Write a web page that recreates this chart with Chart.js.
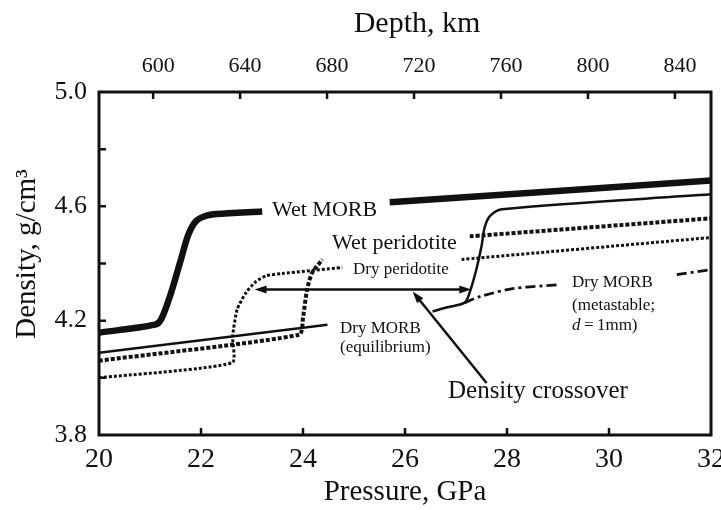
<!DOCTYPE html>
<html>
<head>
<meta charset="utf-8">
<script src="https://cdn.jsdelivr.net/npm/chart.js@4.4.1/dist/chart.umd.min.js"></script>
<style>
  html, body { margin: 0; padding: 0; background: #fff; }
  canvas { display: block; }
</style>
</head>
<body>
<canvas id="chart" width="721" height="510"></canvas>
<script>
// ---- Axis ticks ----
const pressureTicks = [20, 22, 24, 26, 28, 30, 32];          // GPa
const depthTicks = [600, 640, 680, 720, 760, 800, 840];      // km
const densityTicks = [3.8, 4.0, 4.2, 4.4, 4.6, 4.8, 5.0];    // g/cm3
const densityLabels = [3.8, 4.2, 4.6, 5.0];

// ---- Density profiles: pressure (GPa) / density (g/cm3); null = break for a label ----
const wetMorbP = [20, 21.1, 21.22, 21.4, 21.6, 21.75, 21.9, 22.1, 22.3, 23.2, 24.4, 25.7, 32];
const wetMorbD = [4.158, 4.186, 4.205, 4.29, 4.41, 4.50, 4.548, 4.567, 4.573, 4.582, null, 4.614, 4.69];

const wetPeridotiteP = [20, 23.93, 24.0, 24.08, 24.18, 24.38, 25.8, 27.27, 32];
const wetPeridotiteD = [4.06, 4.151, 4.21, 4.31, 4.368, 4.414, null, 4.495, 4.558];

const dryPeridotiteP = [20, 22.61, 22.62, 22.71, 22.89, 23.08, 23.28, 23.59, 24.77, 26, 27.11, 32];
const dryPeridotiteD = [4.0, 4.053, 4.145, 4.24, 4.30, 4.337, 4.357, 4.365, 4.386, null, 4.414, 4.491];

const dryMorbEqP = [20, 24.48];
const dryMorbEqD = [4.088, 4.186];

const dryMorbP = [26.54, 26.81, 27.17, 27.27, 27.4, 27.5, 27.56, 27.66, 27.9, 32];
const dryMorbD = [4.232, 4.246, 4.263, 4.30, 4.38, 4.46, 4.525, 4.565, 4.59, 4.642];

const dryMorbMetaP = [27.17, 27.47, 28.11, 29.03, 30.2, 31.33, 32];
const dryMorbMetaD = [4.263, 4.284, 4.312, 4.326, null, 4.361, 4.379];

// ---- Arrows (pressure, density) ----
const crossoverSpan = [[23.05, 4.309], [27.3, 4.309]];
const crossoverPointer = [[27.6, 3.982], [26.15, 4.302]];

const INK = '#111';
const SERIF = '"Liberation Serif", "Times New Roman", serif';

function pts(P, D) { return P.map((p, i) => ({ x: p, y: D[i] })); }

function series(P, D, width, dash, tension) {
  return {
    data: pts(P, D),
    borderColor: INK,
    borderWidth: width,
    borderDash: dash,
    borderCapStyle: 'butt',
    borderJoinStyle: 'round',
    tension: tension,
    pointRadius: 0,
    fill: false,
    spanGaps: false
  };
}

// Text notes placed in data coordinates (left edge, baseline)
const notes = [
  { t: 'Wet MORB', p: 23.392, d: 4.566, size: 22 },
  { t: 'Wet peridotite', p: 24.569, d: 4.451, size: 22 },
  { t: 'Dry peridotite', p: 24.98, d: 4.363, size: 17 },
  { t: 'Dry MORB', p: 24.725, d: 4.157, size: 17 },
  { t: '(equilibrium)', p: 24.725, d: 4.090, size: 17 },
  { t: 'Dry MORB', p: 29.275, d: 4.318, size: 17 },
  { t: '(metastable;', p: 29.275, d: 4.237, size: 17 },
  { t: '\u2009=\u20091mm)', p: 29.275, d: 4.167, size: 17, italicPrefix: 'd' },
  { t: 'Density crossover', p: 26.843, d: 3.929, size: 25 }
];

function arrowHead(ctx, x1, y1, x2, y2, len, half) {
  const a = Math.atan2(y2 - y1, x2 - x1);
  ctx.beginPath();
  ctx.moveTo(x2, y2);
  ctx.lineTo(x2 - len * Math.cos(a) + half * Math.sin(a), y2 - len * Math.sin(a) - half * Math.cos(a));
  ctx.lineTo(x2 - len * Math.cos(a) - half * Math.sin(a), y2 - len * Math.sin(a) + half * Math.cos(a));
  ctx.closePath();
  ctx.fill();
}

const decorations = {
  id: 'decorations',
  beforeDraw(chart) {
    const { ctx, width, height } = chart;
    ctx.save();
    ctx.fillStyle = '#fff';
    ctx.fillRect(0, 0, width, height);
    ctx.restore();
  },
  afterDatasetsDraw(chart) {
    const { ctx, scales: { x, y } } = chart;
    ctx.save();
    ctx.strokeStyle = INK;
    ctx.fillStyle = INK;
    ctx.lineWidth = 2.5;
    ctx.setLineDash([]);

    // double-headed span arrow
    const [a, b] = crossoverSpan;
    const ax = x.getPixelForValue(a[0]), ay = y.getPixelForValue(a[1]);
    const bx = x.getPixelForValue(b[0]), by = y.getPixelForValue(b[1]);
    ctx.beginPath();
    ctx.moveTo(ax + 8, ay);
    ctx.lineTo(bx - 8, by);
    ctx.stroke();
    arrowHead(ctx, bx, by, ax, ay, 12, 4);
    arrowHead(ctx, ax, ay, bx, by, 12, 4);

    // pointer from the note to the crossover
    const [c, e] = crossoverPointer;
    const cx = x.getPixelForValue(c[0]), cy = y.getPixelForValue(c[1]);
    const ex = x.getPixelForValue(e[0]), ey = y.getPixelForValue(e[1]);
    const ang = Math.atan2(ey - cy, ex - cx);
    ctx.beginPath();
    ctx.moveTo(cx, cy);
    ctx.lineTo(ex - 8 * Math.cos(ang), ey - 8 * Math.sin(ang));
    ctx.stroke();
    arrowHead(ctx, cx, cy, ex, ey, 12, 4);

    // notes
    ctx.textBaseline = 'alphabetic';
    ctx.textAlign = 'left';
    notes.forEach(n => {
      let px = x.getPixelForValue(n.p);
      const py = y.getPixelForValue(n.d);
      if (n.italicPrefix) {
        ctx.font = 'italic ' + n.size + 'px ' + SERIF;
        ctx.fillText(n.italicPrefix, px, py);
        px += ctx.measureText(n.italicPrefix).width;
      }
      ctx.font = n.size + 'px ' + SERIF;
      ctx.fillText(n.t, px, py);
    });
    ctx.restore();
  },
  afterDraw(chart) {
    const { ctx, chartArea: ca, scales: { x, y, x2 } } = chart;
    ctx.save();
    ctx.strokeStyle = INK;
    ctx.lineWidth = 3;
    ctx.setLineDash([]);
    ctx.strokeRect(ca.left, ca.top, ca.right - ca.left, ca.bottom - ca.top);

    // inward tick marks
    ctx.lineWidth = 2.5;
    const L = 7;
    ctx.beginPath();
    pressureTicks.forEach(v => {
      if (v <= x.min || v >= x.max) return;
      const px = x.getPixelForValue(v);
      ctx.moveTo(px, ca.bottom);
      ctx.lineTo(px, ca.bottom - L);
    });
    depthTicks.forEach(v => {
      const px = x2.getPixelForValue(v);
      ctx.moveTo(px, ca.top);
      ctx.lineTo(px, ca.top + L);
    });
    densityTicks.forEach(v => {
      if (v <= y.min + 1e-9 || v >= y.max - 1e-9) return;
      const py = y.getPixelForValue(v);
      ctx.moveTo(ca.left, py);
      ctx.lineTo(ca.left + L, py);
    });
    ctx.stroke();

    // axis titles (top and left)
    ctx.fillStyle = INK;
    ctx.font = '30px ' + SERIF;
    ctx.textAlign = 'center';
    ctx.textBaseline = 'alphabetic';
    ctx.fillText('Depth, km', 417, 32);

    ctx.translate(35, 254);
    ctx.rotate(-Math.PI / 2);
    ctx.font = '29px ' + SERIF;
    ctx.fillText('Density, g/cm\u00B3', 0, 0);
    ctx.restore();
  }
};

const noGrid = { display: false, drawTicks: false };

new Chart(document.getElementById('chart'), {
  type: 'line',
  data: {
    datasets: [
      series(wetMorbP, wetMorbD, 6.5, [], 0.3),
      series(wetPeridotiteP, wetPeridotiteD, 4, [4, 2], 0.2),
      series(dryPeridotiteP, dryPeridotiteD, 3, [3, 2], 0.2),
      series(dryMorbEqP, dryMorbEqD, 2.5, [], 0),
      series(dryMorbP, dryMorbD, 2.5, [], 0.3),
      series(dryMorbMetaP, dryMorbMetaD, 2.8, [10, 4, 3, 4], 0.3)
    ]
  },
  options: {
    responsive: false,
    animation: false,
    devicePixelRatio: 1,
    layout: { padding: { left: 0, right: 10, top: 0, bottom: 0 } },
    plugins: { legend: { display: false }, tooltip: { enabled: false } },
    scales: {
      x: {
        type: 'linear',
        position: 'bottom',
        min: 20,
        max: 32,
        afterBuildTicks: s => { s.ticks = pressureTicks.map(v => ({ value: v })); },
        afterFit: s => { s.height = 75; s.paddingLeft = 0; s.paddingRight = 0; },
        grid: noGrid,
        border: { display: false },
        ticks: {
          autoSkip: false,
          maxRotation: 0,
          padding: 8,
          color: INK,
          font: { family: SERIF, size: 28 },
          callback: v => String(v)
        },
        title: {
          display: true,
          text: 'Pressure, GPa',
          color: INK,
          font: { family: SERIF, size: 29 },
          padding: { top: 0, bottom: 0 }
        }
      },
      x2: {
        type: 'linear',
        axis: 'x',
        position: 'top',
        min: 575.1,
        max: 856.6,
        afterBuildTicks: s => { s.ticks = depthTicks.map(v => ({ value: v })); },
        afterFit: s => { s.height = 92; s.paddingLeft = 0; s.paddingRight = 0; },
        grid: noGrid,
        border: { display: false },
        ticks: {
          autoSkip: false,
          maxRotation: 0,
          padding: 13,
          labelOffset: 5,
          color: INK,
          font: { family: SERIF, size: 22 },
          callback: v => String(v)
        }
      },
      y: {
        type: 'linear',
        position: 'left',
        min: 3.8,
        max: 5.0,
        afterBuildTicks: s => { s.ticks = densityTicks.map(v => ({ value: v })); },
        afterFit: s => { s.width = 99; s.paddingTop = 0; s.paddingBottom = 0; },
        grid: noGrid,
        border: { display: false },
        ticks: {
          autoSkip: false,
          padding: 12,
          color: INK,
          font: { family: SERIF, size: 26 },
          callback: v => densityLabels.some(d => Math.abs(d - v) < 1e-6) ? v.toFixed(1) : ''
        }
      }
    }
  },
  plugins: [decorations]
});
</script>
</body>
</html>
